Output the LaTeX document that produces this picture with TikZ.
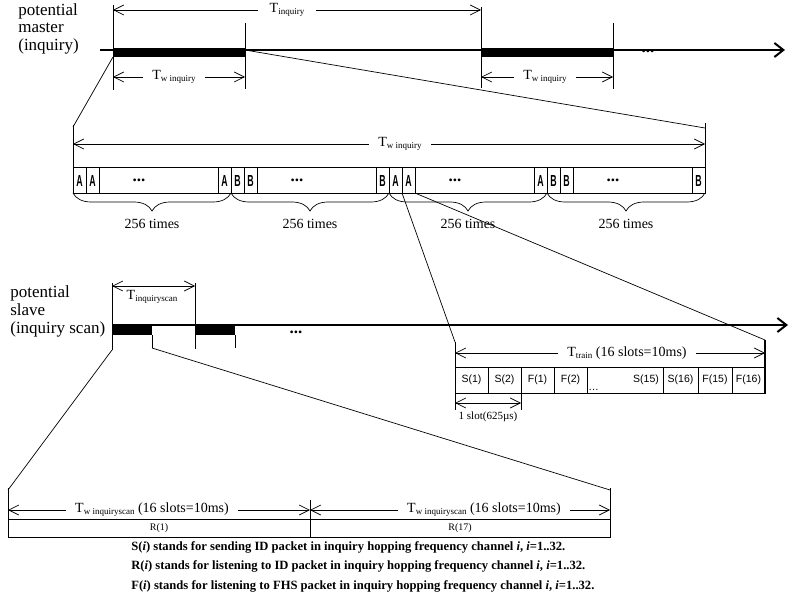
\documentclass[tikz,border=0pt]{standalone}
\usepackage{fontspec}
\setmainfont{Liberation Serif}
\setsansfont{Liberation Sans}
\usetikzlibrary{arrows.meta,decorations.pathreplacing}

\newcommand{\Tsub}[1]{T\raisebox{-0.3ex}{\fontsize{9}{9}\selectfont #1}}

\begin{document}
\begin{tikzpicture}[x=1pt,y=-1pt,line width=0.7pt,>={Straight Barb[length=10pt,width=10pt]},
  lbl/.style={font=\fontsize{14}{14}\selectfont,fill=white,inner ysep=1pt,inner xsep=9pt},
  cellsym/.style={font=\sffamily\bfseries\fontsize{16}{16}\selectfont,xscale=0.55,inner sep=0pt},
  slotlbl/.style={font=\sffamily\fontsize{10.5}{10.5}\selectfont},
  bigdots/.style={font=\bfseries\fontsize{17}{17}\selectfont},
  timeline/.style={line width=2pt,-{Straight Barb[length=9pt,width=14pt]}}]
\useasboundingbox (0,0) rectangle (792,612);
% potential master
\node[anchor=north west,align=left,inner sep=0pt,font=\fontsize{17}{17.5}\selectfont] (master) at (18,3) {potential\\master\\(inquiry)};
\draw[timeline] (100,50) -- (785,50);
\fill (113,48) rectangle (245,57);
\fill (481,48) rectangle (613,57);
\draw (113,5) -- (113,90);
\draw (481,7) -- (481,88);
\draw (245,23) -- (245,89);
\draw (613,23) -- (613,89);
\draw[<->] (113,10) -- (481,10);
\node[lbl,inner xsep=12pt] (tinq) at (287,10) {\Tsub{inquiry}};
\draw[<->] (113,77) -- (245,77);
\node[lbl] (tw1) at (174,77) {\Tsub{w inquiry}};
\draw[<->] (481,77) -- (613,77);
\node[lbl] (tw2) at (545,77) {\Tsub{w inquiry}};
\node[bigdots] (mdots) at (648,51) {...};
% zoom into first window
\draw (113,57) -- (73,127);
\draw (245,50) -- (705,128);
\draw (73,125) -- (73,167);
\draw (705,123) -- (705,167);
\draw[<->] (73,144) -- (705,144);
\node[lbl] (twbig) at (400,144) {\Tsub{w inquiry}};
\draw (73,167) rectangle (705,193);
\foreach \g/\s in {0/A,1/B,2/A,3/B}{
  \pgfmathsetmacro{\gx}{73+158*\g}
  \draw (\gx+13,167) -- (\gx+13,193);
  \draw (\gx+26,167) -- (\gx+26,193);
  \draw (\gx+145,167) -- (\gx+145,193);
  \draw (\gx+158,167) -- (\gx+158,193);
  \node[cellsym] (s\g-1) at (\gx+6.5,181) {\s};
  \node[cellsym] (s\g-2) at (\gx+19.5,181) {\s};
  \node[cellsym] (s\g-3) at (\gx+151.5,181) {\s};
  \node[bigdots] (d\g) at (\gx+66,180) {...};
  \draw[decorate,decoration={brace,mirror,amplitude=18pt}] (\gx,193) -- (\gx+158,193);
  \node[font=\fontsize{14}{14}\selectfont] (n\g) at (\gx+79,224) {256 times};
}
% potential slave
\node[anchor=north west,align=left,inner sep=0pt,font=\fontsize{17}{18}\selectfont] (slave) at (10,285) {potential\\slave\\(inquiry scan)};
\draw[timeline] (112,325) -- (788,325);
\fill (112,324) rectangle (152,335);
\fill (195,324) rectangle (235,335);
\draw (112,283) -- (112,350);
\draw (195,283) -- (195,349);
\draw (152,335) -- (152,348);
\draw (235,335) -- (235,348);
\draw[<->] (112,286) -- (195,286);
\node[font=\fontsize{14}{14}\selectfont] (tscan) at (152,297) {\Tsub{inquiryscan}};
\node[bigdots] (sdots) at (296,332) {...};
% zoom into the train
\draw (402,193) -- (455,342);
\draw (415,193) -- (765,340);
\draw (455,342) -- (455,410);
\draw[line width=1.3pt] (765,340) -- (765,393);
\draw[<->] (455,353) -- (765,353);
\node[lbl] (ttrain) at (627,353) {\Tsub{train} (16 slots=10ms)};
\draw (455,367) rectangle (765,393);
\foreach \a/\b/\t in {455/488/S(1),488/521/S(2),521/554/F(1),554/587/F(2),629/663/S(15),663/698/S(16),698/732/F(15),732/765/F(16)}{
  \draw (\b,367) -- (\b,393);
  \node[slotlbl] (c\a) at ({(\a+\b)/2},380) {\t};
}
\node[slotlbl,anchor=south west,inner sep=1pt] (cdots) at (587,392) {\dots};
\draw (521,393) -- (521,410);
\draw[<->] (455,403) -- (521,403);
\node[font=\fontsize{11}{11}\selectfont] (slot) at (488,417) {1 slot(625µs)};
% zoom into the scan window
\draw (112,350) -- (8,490);
\draw (152,348) -- (610,490);
\draw (8,488) -- (8,537);
\draw (610,488) -- (610,537);
\draw (310,500) -- (310,537);
\draw[<->] (8,510) -- (310,510);
\draw[<->] (310,510) -- (610,510);
\node[lbl] (tws1) at (152,510) {\Tsub{w inquiryscan} (16 slots=10ms)};
\node[lbl] (tws2) at (484,510) {\Tsub{w inquiryscan} (16 slots=10ms)};
\draw (8,519) rectangle (610,537);
\node[font=\fontsize{10}{10}\selectfont] (r1) at (159,528) {R(1)};
\node[font=\fontsize{10}{10}\selectfont] (r17) at (460,528) {R(17)};
% legend
\node[anchor=north west,align=left,inner sep=0pt,font=\bfseries\fontsize{12.6}{19.5}\selectfont] (legend) at (131,541) {S(\textit{i}) stands for sending ID packet in inquiry hopping frequency channel \textit{i}, \textit{i}=1..32.\\R(\textit{i}) stands for listening to ID packet in inquiry hopping frequency channel \textit{i}, \textit{i}=1..32.\\F(\textit{i}) stands for listening to FHS packet in inquiry hopping frequency channel \textit{i}, \textit{i}=1..32.};
\end{tikzpicture}
\end{document}
